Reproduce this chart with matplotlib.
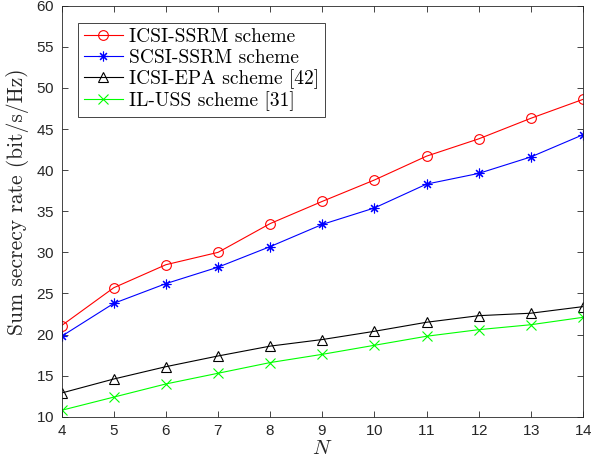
import matplotlib
matplotlib.use("Agg")
import matplotlib.pyplot as plt

# values
N = [4, 5, 6, 7, 8, 9, 10, 11, 12, 13, 14]
icsi_ssrm = [21.1, 25.7, 28.5, 30.0, 33.5, 36.2, 38.8, 41.7, 43.8, 46.3, 48.6]
scsi_ssrm = [19.8, 23.8, 26.2, 28.2, 30.7, 33.4, 35.4, 38.3, 39.6, 41.6, 44.3]
icsi_epa = [12.9, 14.6, 16.1, 17.4, 18.6, 19.4, 20.4, 21.5, 22.3, 22.6, 23.4]
il_uss = [10.8, 12.4, 14.0, 15.3, 16.6, 17.6, 18.7, 19.8, 20.6, 21.2, 22.1]

labels = ["ICSI-SSRM scheme", "SCSI-SSRM scheme",
          "ICSI-EPA scheme [42]", "IL-USS scheme [31]"]

plt.rcParams['mathtext.fontset'] = 'cm'
plt.rcParams['axes.formatter.use_mathtext'] = True

fig = plt.figure(figsize=(5.93, 4.71), dpi=100)
ax = fig.add_axes([0.104, 0.115, 0.879, 0.873])

ms = 7
lw = 0.8
asterisk = (8, 2, 0)
ax.plot(N, icsi_ssrm, color='r', marker='o', mfc='none', ms=ms, lw=lw, mew=lw, label=labels[0])
ax.plot(N, scsi_ssrm, color='b', marker=asterisk, mfc='none', ms=ms, lw=lw, mew=lw, label=labels[1])
ax.plot(N, icsi_epa, color='k', marker='^', mfc='none', ms=ms, lw=lw, mew=lw, label=labels[2])
ax.plot(N, il_uss, color=(0, 1, 0), marker='x', mfc='none', ms=ms, lw=lw, mew=lw, label=labels[3])

ax.set_xlim(4, 14)
ax.set_ylim(10, 60)
ax.set_xticks(range(4, 15))
ax.set_yticks(range(10, 61, 5))

tick_font = "Liberation Sans"
for t in ax.get_xticklabels() + ax.get_yticklabels():
    t.set_fontfamily(tick_font)
    t.set_fontsize(11)
    t.set_color('#262626')

ax.tick_params(direction='in', top=True, right=True, length=4, width=0.6, colors='#262626', pad=5)
for s in ax.spines.values():
    s.set_linewidth(0.6)
    s.set_color('#262626')

ax.set_xlabel("$N$", fontsize=15, color='#262626', labelpad=0)
ax.set_ylabel("Sum secrecy rate (bit/s/Hz)", family='cmr10', fontsize=15.5, color='#262626')
ax.yaxis.set_label_coords(-0.062, 0.523)

leg = ax.legend(loc='upper left', prop={'family': 'cmr10', 'size': 14},
                bbox_to_anchor=(78 / 593, 1 - 22.5 / 471), bbox_transform=fig.transFigure,
                frameon=True, fancybox=False, edgecolor='#262626', framealpha=1,
                handlelength=2.0, handletextpad=0.3, labelspacing=0.12,
                borderaxespad=0, borderpad=0.3)
leg.get_frame().set_linewidth(0.6)

fig.savefig("out.png", dpi=100)
